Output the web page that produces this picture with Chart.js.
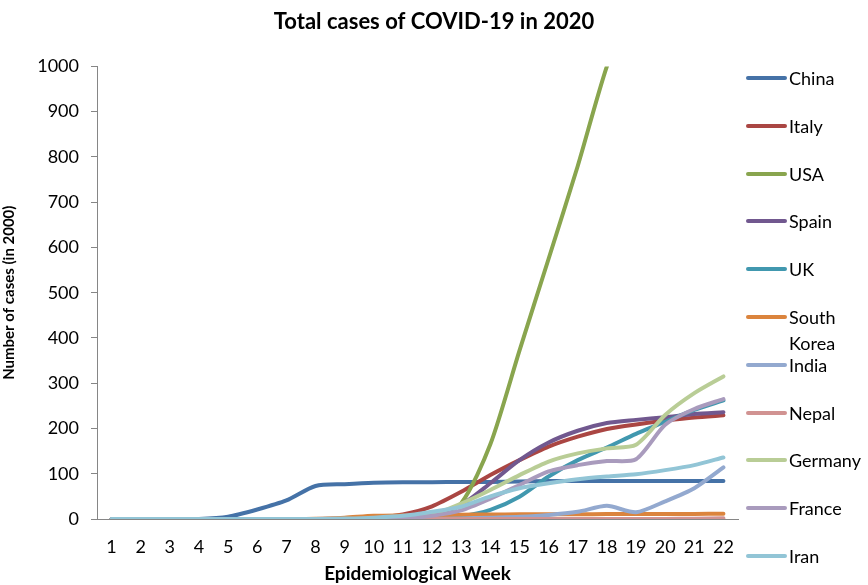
<!DOCTYPE html>
<html>
<head>
<meta charset="utf-8">
<script src="https://cdn.jsdelivr.net/npm/chart.js@4.4.1/dist/chart.umd.min.js"></script>
<style>
  body { margin: 0; background: #fff; }
  #wrap { position: relative; width: 868px; height: 585px; overflow: hidden; }
  #legend { position: absolute; left: 746px; top: 0; font-family: Lato, sans-serif; font-size: 18px; color: #000; }
  .item { position: absolute; left: 0; display: flex; align-items: flex-start; }
  .swatch { width: 41px; height: 4px; border-radius: 2px; margin-top: 11px; margin-right: 2px; flex: none; }
  .lbl { line-height: 26px; width: 78px; }
</style>
</head>
<body>
<div id="wrap">
  <canvas id="covid" width="868" height="585"></canvas>
  <div id="legend"></div>
</div>
<script>
// weeks on the x axis
const weeks = ['1','2','3','4','5','6','7','8','9','10','11','12','13','14','15','16','17','18','19','20','21','22'];
const countries = ['China', 'Italy', 'USA', 'Spain', 'UK', 'South Korea', 'India', 'Nepal', 'Germany', 'France', 'Iran'];

// total cases (thousands)
const china   = [0, 0, 0, 0, 5, 21, 41, 73, 77, 80, 81, 81, 82, 82, 83, 84, 84, 84, 84, 84, 84, 84];
const italy   = [0, 0, 0, 0, 0, 0, 0, 0, 1, 3, 10, 28, 60, 97, 130, 160, 182, 199, 209, 217, 224, 229];
const usa     = [0, 0, 0, 0, 0, 0, 0, 0, 0, 0, 1, 5, 35, 165, 372, 575, 780, 1000, 1160, 1330, 1500, 1700];
const spain   = [0, 0, 0, 0, 0, 0, 0, 0, 0, 0, 1, 10, 31, 79, 130, 169, 195, 212, 219, 225, 232, 236];
const uk      = [0, 0, 0, 0, 0, 0, 0, 0, 0, 0, 0.5, 3, 6, 20, 49, 94, 130, 158, 188, 215, 241, 262];
const skorea  = [0, 0, 0, 0, 0, 0, 0, 0.5, 3, 7, 8, 8.5, 9.5, 10, 10.4, 10.6, 10.7, 10.8, 10.9, 11, 11.2, 11.5];
const india   = [0, 0, 0, 0, 0, 0, 0, 0, 0, 0, 0, 0, 1, 3, 5, 9, 16, 29, 15, 39, 68, 114];
const nepal   = [0, 0, 0, 0, 0, 0, 0, 0, 0, 0, 0, 0, 0, 0, 0, 0, 0, 0, 0, 0.2, 0.5, 1.5];
const germany = [0, 0, 0, 0, 0, 0, 0, 0, 0, 0, 2, 10, 34, 64, 97, 127, 145, 156, 164, 230, 278, 315];
const france  = [0, 0, 0, 0, 0, 0, 0, 0, 0, 0, 1, 7, 19, 45, 75, 105, 119, 128, 132, 208, 243, 265];
const iran    = [0, 0, 0, 0, 0, 0, 0, 0, 1, 3, 7, 16, 27, 50, 68, 79, 88, 94, 99, 108, 119, 136];

const series = [china, italy, usa, spain, uk, skorea, india, nepal, germany, france, iran];
const colors = ['#4572A7', '#AA4643', '#89A54E', '#71588F', '#4198AF', '#DB843D',
                '#93A9CF', '#D19392', '#B9CD96', '#A99BBD', '#92C5D6'];

const datasets = series.map((vals, i) => ({
  label: countries[i],
  data: vals,
  borderColor: colors[i],
  backgroundColor: colors[i],
  borderWidth: 4,
  borderCapStyle: 'round',
  pointRadius: 0,
  tension: 0.25,
  order: countries.length - i   // later series drawn on top, like the original
}));

const chart = new Chart(document.getElementById('covid'), {
  type: 'line',
  data: { labels: weeks, datasets: datasets },
  options: {
    responsive: false,
    animation: false,
    plugins: {
      legend: { display: false },
      tooltip: { enabled: false },
      title: {
        display: true,
        text: 'Total cases of COVID-19 in 2020',
        color: '#000',
        font: { family: 'Lato', size: 22, weight: 'bold' },
        padding: { top: 9, bottom: 31 }
      }
    },
    scales: {
      x: {
        offset: true,
        grid: { display: false, drawTicks: false },
        border: { display: true, color: '#868686', width: 1 },
        ticks: { color: '#000', font: { family: 'Lato', size: 18 }, padding: 17, maxRotation: 0, autoSkip: false },
        title: {
          display: true,
          text: 'Epidemiological Week',
          color: '#000',
          font: { family: 'Lato', size: 19, weight: 'bold' },
          padding: { top: 0, bottom: 0 }
        },
        afterFit: s => { s.height = 66; }
      },
      y: {
        min: 0,
        max: 1000,
        grid: { display: true, drawOnChartArea: false, drawTicks: true, tickLength: 6, color: '#868686' },
        border: { display: true, color: '#868686', width: 1 },
        ticks: { stepSize: 100, color: '#000', font: { family: 'Lato', size: 18 }, padding: 12,
                 callback: v => String(v) },
        title: {
          display: true,
          text: 'Number of cases (in 2000)',
          color: '#000',
          font: { family: 'Lato', size: 15, weight: 'bold' },
          padding: { top: 0, bottom: 8 }
        },
        afterFit: s => { s.width = 97; }
      },
      // empty right-hand axis keeps room for the legend while the title stays centred on the page
      side: {
        position: 'right',
        min: 0,
        max: 1,
        grid: { display: false },
        border: { display: false },
        ticks: { display: false },
        afterFit: s => { s.width = 130; }
      }
    }
  }
});

// legend on the right, one row per series
const legendBox = document.getElementById('legend');
chart.data.datasets.forEach((ds, i) => {
  const item = document.createElement('div');
  item.className = 'item';
  item.style.top = (78 + i * 47.8 - 13) + 'px';
  const sw = document.createElement('span');
  sw.className = 'swatch';
  sw.style.background = ds.borderColor;
  const lbl = document.createElement('span');
  lbl.className = 'lbl';
  lbl.textContent = ds.label;
  item.appendChild(sw);
  item.appendChild(lbl);
  legendBox.appendChild(item);
});
</script>
</body>
</html>
